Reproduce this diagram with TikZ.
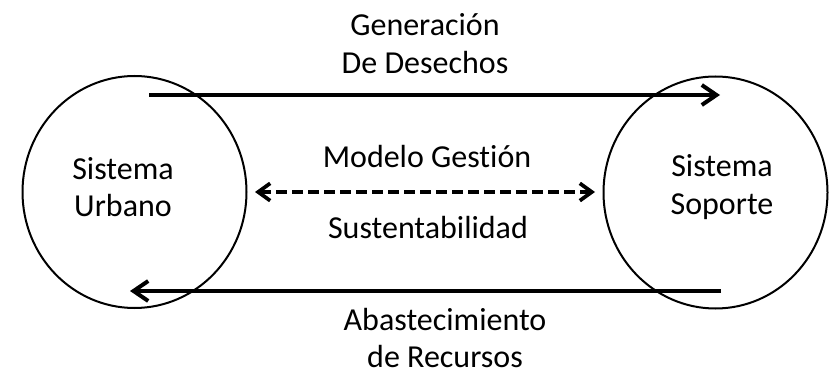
\documentclass[tikz,border=0pt]{standalone}
\usepackage{fontspec}
\setmainfont{Carlito}[Ligatures=NoCommon]
\usetikzlibrary{arrows.meta}
\usetikzlibrary{shapes.geometric}
\usetikzlibrary{positioning}
\tikzset{
	sistema/.style={draw, ellipse, line width=1.5pt, minimum width=168pt, minimum height=174pt, inner sep=0pt},
	texto/.style={align=center, inner sep=0pt, font=\fontsize{24}{28}\selectfont},
	flujo/.style={line width=3pt, -{Straight Barb[length=11pt,width=15pt]}},
	gestion/.style={line width=2.8pt, dash pattern=on 8pt off 4pt, {Straight Barb[length=9pt,width=13pt]}-{Straight Barb[length=9pt,width=13pt]}}
}

\begin{document}
\begin{tikzpicture}[x=0.75pt, y=-0.75pt]
	\useasboundingbox (0,0) rectangle (829,374);
	\node[sistema] (urbano) at (134.5,192) {};%izquierda
	\node[sistema] (soporte) at (715.5,192.5) {};%derecha
	\node[texto] (urbanotxt) at (123,187) {Sistema\\Urbano};
	\node[texto] (soportetxt) at (722,187) {Sistema\\Soporte};
	\coordinate (gen0) at (149,95);
	\coordinate (gen1) at (720,95);
	\coordinate (aba0) at (721,291);
	\coordinate (aba1) at (130,291);
	\coordinate (mod0) at (255,192);
	\coordinate (mod1) at (595,192);
	\draw[flujo] (gen0) -- (gen1);
	\draw[flujo] (aba0) -- (aba1);
	\draw[gestion] (mod0) -- (mod1);
	\node[texto] (generacion) at (425,43.5) {Generación\\De Desechos};
	\node[texto] (modelo) at (427,157) {Modelo Gestión};
	\node[texto] (sustent) at (428,228) {Sustentabilidad};
	\node[texto] (abastec) at (445,338) {Abastecimiento\\de Recursos};
\end{tikzpicture}
\end{document}
